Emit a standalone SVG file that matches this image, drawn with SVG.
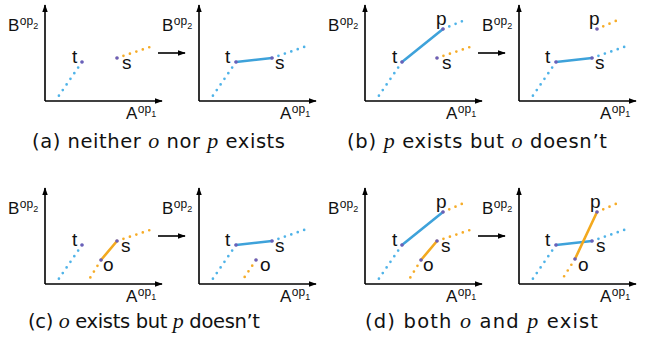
<svg xmlns="http://www.w3.org/2000/svg" width="650" height="341" viewBox="0 0 650 341">
<style>
.ax{stroke:#000;stroke-width:1.6;fill:none;marker-end:url(#ah)}
.db{stroke:#4fb3e8;stroke-width:2.7;stroke-linecap:round;stroke-dasharray:0 6.8;fill:none}
.do{stroke:#f6ac28;stroke-width:2.7;stroke-linecap:round;stroke-dasharray:0 6.8;fill:none}
.sb{stroke:#3ea2da;stroke-width:2.6;stroke-linecap:round;fill:none}
.so{stroke:#f3a91e;stroke-width:2.6;stroke-linecap:round;fill:none}
.e{fill:#6c5fb8}
.l{font-family:"Liberation Sans",Arial,sans-serif;font-size:19px;fill:#111}
.al{font-family:"Liberation Sans",Arial,sans-serif;font-size:17px;fill:#111}
.sup{font-size:12px}
.sub{font-size:9px}
.cap{font-family:"DejaVu Sans",sans-serif;font-size:19.5px;fill:#111}
.m{font-family:"Liberation Serif",serif;font-style:italic;font-size:22px}
</style>
<defs>
<marker id="ah" viewBox="0 0 10 10" refX="9" refY="5" markerWidth="8" markerHeight="8" markerUnits="userSpaceOnUse" orient="auto"><path d="M0,1.5 L10,5 L0,8.5 z" fill="#000"/></marker>
</defs>

<g id="transition-arrows">
<path class="ax" d="M158,53 H185"/>
<path class="ax" d="M478,53 H505"/>
<path class="ax" d="M158,236 H185"/>
<path class="ax" d="M478,236 H505"/>
</g>

<g id="a1" transform="translate(0,0)">
<g id="a1-axes"><path class="ax" d="M45,101 V5"/><path class="ax" d="M45,101 H162"/>
<text class="al" x="8" y="31">B<tspan class="sup" dy="-6" dx="0.5">op</tspan><tspan class="sub" dy="4">2</tspan></text>
<text class="al" x="126" y="119">A<tspan class="sup" dy="-6" dx="0.5">op</tspan><tspan class="sub" dy="4">1</tspan></text></g>
<g id="a1-connectors"><path class="db" d="M82,62 L58,97"/><path class="do" d="M117,58 L153,46"/></g>
<g id="a1-t"><circle class="e" cx="82" cy="62" r="1.8"/><text class="l" x="72" y="63">t</text></g>
<g id="a1-s"><circle class="e" cx="117" cy="58" r="1.8"/><text class="l" x="122" y="69">s</text></g>
</g>

<g id="a2" transform="translate(154,0)">
<g id="a2-axes"><path class="ax" d="M45,101 V5"/><path class="ax" d="M45,101 H162"/>
<text class="al" x="8" y="31">B<tspan class="sup" dy="-6" dx="0.5">op</tspan><tspan class="sub" dy="4">2</tspan></text>
<text class="al" x="126" y="119">A<tspan class="sup" dy="-6" dx="0.5">op</tspan><tspan class="sub" dy="4">1</tspan></text></g>
<g id="a2-connectors"><path class="db" d="M82,62 L58,97"/><path class="sb" d="M82,62 L118,58"/><path class="db" d="M118,58 L153,46"/></g>
<g id="a2-t"><circle class="e" cx="82" cy="62" r="1.8"/><text class="l" x="71" y="63">t</text></g>
<g id="a2-s"><circle class="e" cx="118" cy="58" r="1.8"/><text class="l" x="121" y="69">s</text></g>
</g>

<g id="b1" transform="translate(320,0)">
<g id="b1-axes"><path class="ax" d="M45,101 V5"/><path class="ax" d="M45,101 H162"/>
<text class="al" x="8" y="31">B<tspan class="sup" dy="-6" dx="0.5">op</tspan><tspan class="sub" dy="4">2</tspan></text>
<text class="al" x="126" y="119">A<tspan class="sup" dy="-6" dx="0.5">op</tspan><tspan class="sub" dy="4">1</tspan></text></g>
<g id="b1-connectors"><path class="db" d="M82,62 L58,97"/><path class="sb" d="M82,62 L123,29"/><path class="db" d="M123,29 L145,20"/><path class="do" d="M117,58 L153,46"/></g>
<g id="b1-t"><circle class="e" cx="82" cy="62" r="1.8"/><text class="l" x="72" y="63">t</text></g>
<g id="b1-p"><circle class="e" cx="123" cy="29" r="1.8"/><text class="l" x="116" y="25">p</text></g>
<g id="b1-s"><circle class="e" cx="117" cy="58" r="1.8"/><text class="l" x="122" y="69">s</text></g>
</g>

<g id="b2" transform="translate(474,0)">
<g id="b2-axes"><path class="ax" d="M45,101 V5"/><path class="ax" d="M45,101 H162"/>
<text class="al" x="8" y="31">B<tspan class="sup" dy="-6" dx="0.5">op</tspan><tspan class="sub" dy="4">2</tspan></text>
<text class="al" x="126" y="119">A<tspan class="sup" dy="-6" dx="0.5">op</tspan><tspan class="sub" dy="4">1</tspan></text></g>
<g id="b2-connectors"><path class="db" d="M82,62 L58,97"/><path class="sb" d="M82,62 L118,58"/><path class="db" d="M118,58 L153,46"/><path class="do" d="M123,29 L144,20"/></g>
<g id="b2-t"><circle class="e" cx="82" cy="62" r="1.8"/><text class="l" x="71" y="63">t</text></g>
<g id="b2-s"><circle class="e" cx="118" cy="58" r="1.8"/><text class="l" x="121" y="69">s</text></g>
<g id="b2-p"><circle class="e" cx="123" cy="29" r="1.8"/><text class="l" x="115" y="25">p</text></g>
</g>

<g id="c1" transform="translate(0,183)">
<g id="c1-axes"><path class="ax" d="M45,101 V5"/><path class="ax" d="M45,101 H162"/>
<text class="al" x="8" y="31">B<tspan class="sup" dy="-6" dx="0.5">op</tspan><tspan class="sub" dy="4">2</tspan></text>
<text class="al" x="126" y="119">A<tspan class="sup" dy="-6" dx="0.5">op</tspan><tspan class="sub" dy="4">1</tspan></text></g>
<g id="c1-connectors"><path class="db" d="M82,62 L58,97"/><path class="so" d="M101,77 L117,58"/><path class="do" d="M117,58 L153,46"/><path class="do" d="M101,77 L90,95"/></g>
<g id="c1-t"><circle class="e" cx="82" cy="62" r="1.8"/><text class="l" x="72" y="63">t</text></g>
<g id="c1-s"><circle class="e" cx="117" cy="58" r="1.8"/><text class="l" x="121" y="69">s</text></g>
<g id="c1-o"><circle class="e" cx="101" cy="77" r="1.8"/><text class="l" x="103" y="88">o</text></g>
</g>

<g id="c2" transform="translate(154,183)">
<g id="c2-axes"><path class="ax" d="M45,101 V5"/><path class="ax" d="M45,101 H162"/>
<text class="al" x="8" y="31">B<tspan class="sup" dy="-6" dx="0.5">op</tspan><tspan class="sub" dy="4">2</tspan></text>
<text class="al" x="126" y="119">A<tspan class="sup" dy="-6" dx="0.5">op</tspan><tspan class="sub" dy="4">1</tspan></text></g>
<g id="c2-connectors"><path class="db" d="M82,62 L58,97"/><path class="sb" d="M82,62 L118,58"/><path class="db" d="M118,58 L153,46"/><path class="do" d="M102,77 L90,95"/></g>
<g id="c2-t"><circle class="e" cx="82" cy="62" r="1.8"/><text class="l" x="71" y="63">t</text></g>
<g id="c2-s"><circle class="e" cx="118" cy="58" r="1.8"/><text class="l" x="121" y="69">s</text></g>
<g id="c2-o"><circle class="e" cx="102" cy="77" r="1.8"/><text class="l" x="106" y="88">o</text></g>
</g>

<g id="d1" transform="translate(320,183)">
<g id="d1-axes"><path class="ax" d="M45,101 V5"/><path class="ax" d="M45,101 H162"/>
<text class="al" x="8" y="31">B<tspan class="sup" dy="-6" dx="0.5">op</tspan><tspan class="sub" dy="4">2</tspan></text>
<text class="al" x="126" y="119">A<tspan class="sup" dy="-6" dx="0.5">op</tspan><tspan class="sub" dy="4">1</tspan></text></g>
<g id="d1-connectors"><path class="db" d="M82,62 L58,97"/><path class="sb" d="M82,62 L123,29"/><path class="do" d="M123,29 L144,20"/><path class="so" d="M101,77 L117,58"/><path class="do" d="M117,58 L153,46"/><path class="do" d="M101,77 L90,95"/></g>
<g id="d1-t"><circle class="e" cx="82" cy="62" r="1.8"/><text class="l" x="72" y="63">t</text></g>
<g id="d1-p"><circle class="e" cx="123" cy="29" r="1.8"/><text class="l" x="116" y="25">p</text></g>
<g id="d1-s"><circle class="e" cx="117" cy="58" r="1.8"/><text class="l" x="121" y="69">s</text></g>
<g id="d1-o"><circle class="e" cx="101" cy="77" r="1.8"/><text class="l" x="103" y="88">o</text></g>
</g>

<g id="d2" transform="translate(474,183)">
<g id="d2-axes"><path class="ax" d="M45,101 V5"/><path class="ax" d="M45,101 H162"/>
<text class="al" x="8" y="31">B<tspan class="sup" dy="-6" dx="0.5">op</tspan><tspan class="sub" dy="4">2</tspan></text>
<text class="al" x="126" y="119">A<tspan class="sup" dy="-6" dx="0.5">op</tspan><tspan class="sub" dy="4">1</tspan></text></g>
<g id="d2-connectors"><path class="db" d="M82,62 L58,97"/><path class="sb" d="M82,62 L118,58"/><path class="db" d="M118,58 L153,46"/><path class="so" d="M101,76 L123,29"/><path class="do" d="M123,29 L144,20"/><path class="do" d="M101,76 L89,95"/></g>
<g id="d2-t"><circle class="e" cx="82" cy="62" r="1.8"/><text class="l" x="71" y="63">t</text></g>
<g id="d2-s"><circle class="e" cx="118" cy="58" r="1.8"/><text class="l" x="122" y="69">s</text></g>
<g id="d2-o"><circle class="e" cx="101" cy="76" r="1.8"/><text class="l" x="104" y="88">o</text></g>
<g id="d2-p"><circle class="e" cx="123" cy="29" r="1.8"/><text class="l" x="116" y="25">p</text></g>
</g>

<g id="captions">
<text class="cap" x="32" y="148" textLength="253" lengthAdjust="spacing">(a) neither <tspan class="m">o</tspan> nor <tspan class="m">p</tspan> exists</text>
<text class="cap" x="347" y="148" textLength="260" lengthAdjust="spacing">(b) <tspan class="m">p</tspan> exists but <tspan class="m">o</tspan> doesn’t</text>
<text class="cap" x="28" y="328" textLength="232" lengthAdjust="spacing">(c) <tspan class="m">o</tspan> exists but <tspan class="m">p</tspan> doesn’t</text>
<text class="cap" x="365" y="328" textLength="233" lengthAdjust="spacing">(d) both <tspan class="m">o</tspan> and <tspan class="m">p</tspan> exist</text>
</g>
</svg>
